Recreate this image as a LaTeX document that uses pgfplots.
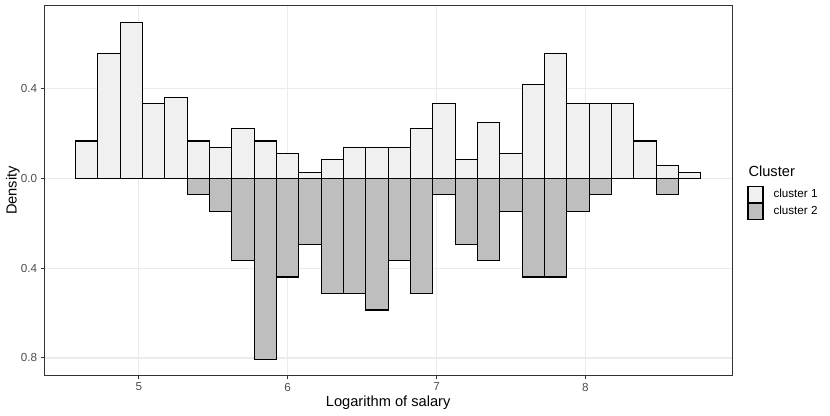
\documentclass[border=0pt]{standalone}
\usepackage{fontspec}
\setmainfont{Liberation Sans}
\usepackage{pgfplots}
\pgfplotsset{compat=1.18}
\definecolor{cA}{HTML}{F0F0F0}
\definecolor{cB}{HTML}{BEBEBE}
\definecolor{gridc}{HTML}{EBEBEB}
\definecolor{framec}{HTML}{333333}
\definecolor{tickc}{HTML}{4D4D4D}
\begin{document}
\begin{tikzpicture}[x=1bp,y=1bp]
\useasboundingbox (0,0) rectangle (830,415);
\begin{axis}[
  at={(44.3bp,39.3bp)}, anchor=south west,
  scale only axis, width=687.7bp, height=370.4bp,
  xmin=4.365, xmax=8.985, ymin=-0.879, ymax=0.771,
  axis line style={framec, line width=1bp},
  xtick={5,6,7,8}, xticklabels={5,6,7,8},
  ytick={-0.8,-0.4,0,0.4}, yticklabels={0.8,0.4,0.0,0.4},
  minor tick num=0,
  xtick pos=bottom, ytick pos=left,
  tick align=outside, major tick length=3.7bp,
  every tick/.style={framec, line width=1bp},
  grid=major, major grid style={gridc, line width=1.2bp},
  ticklabel style={font=\fontsize{11.7}{14}\selectfont, text=tickc},
  /pgf/number format/assume math mode=true,
  xlabel={Logarithm of salary}, ylabel={Density},
  every axis x label/.style={at={(axis description cs:0.5,-0.08369)}, anchor=base, font=\fontsize{14.7}{17}\selectfont},
  every axis y label/.style={at={(axis description cs:-0.04013,0.5)}, rotate=90, anchor=base, font=\fontsize{14.7}{17}\selectfont},
  legend style={at={(axis description cs:1.02225,0.5121)}, anchor=north west, draw=none, fill=none,
    inner sep=0pt, outer sep=0pt, row sep=0pt, column sep=10bp,
    font=\fontsize{11.7}{14}\selectfont, nodes={inner sep=0pt}},
  legend cell align=left,
]
\addplot[ybar interval, fill=cA, draw=black, line width=1.2bp,
  legend image code/.code={\draw[fill=cA, draw=black, line width=1.2bp] (0bp,-7.9bp) rectangle (15bp,7.9bp);}]
coordinates {
(4.575,0.1667) (4.725,0.5556) (4.875,0.6944) (5.025,0.3333) (5.175,0.3611)
(5.325,0.1667) (5.475,0.1389) (5.625,0.2222) (5.775,0.1667) (5.925,0.1111)
(6.075,0.0278) (6.225,0.0833) (6.375,0.1389) (6.525,0.1389) (6.675,0.1389)
(6.825,0.2222) (6.975,0.3333) (7.125,0.0833) (7.275,0.2500) (7.425,0.1111)
(7.575,0.4167) (7.725,0.5556) (7.875,0.3333) (8.025,0.3333) (8.175,0.3333)
(8.325,0.1667) (8.475,0.0556) (8.625,0.0278) (8.775,0.0278)
};
\addlegendentry{cluster 1}
\addplot[ybar interval, fill=cB, draw=black, line width=1.2bp,
  legend image code/.code={\draw[fill=cB, draw=black, line width=1.2bp] (0bp,-7.9bp) rectangle (15bp,7.9bp);}]
coordinates {
(4.575,0) (4.725,0) (4.875,0) (5.025,0) (5.175,0)
(5.325,-0.0733) (5.475,-0.1465) (5.625,-0.3663) (5.775,-0.8059) (5.925,-0.4396)
(6.075,-0.2930) (6.225,-0.5128) (6.375,-0.5128) (6.525,-0.5861) (6.675,-0.3663)
(6.825,-0.5128) (6.975,-0.0733) (7.125,-0.2930) (7.275,-0.3663) (7.425,-0.1465)
(7.575,-0.4396) (7.725,-0.4396) (7.875,-0.1465) (8.025,-0.0733) (8.175,0)
(8.325,0) (8.475,-0.0733) (8.625,0) (8.775,0)
};
\addlegendentry{cluster 2}
\end{axis}
\node[anchor=base west, font=\fontsize{14.7}{17}\selectfont, inner sep=0pt] at (748.3,238.5) {Cluster};
\end{tikzpicture}
\end{document}
